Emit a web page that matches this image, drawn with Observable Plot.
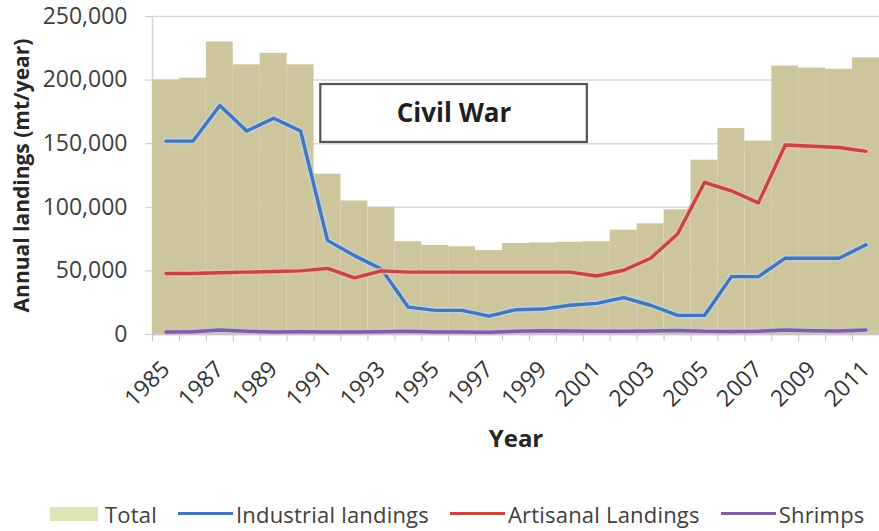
<!DOCTYPE html>
<html>
<head>
<meta charset="utf-8">
<script src="https://cdn.jsdelivr.net/npm/d3@7"></script>
<script src="https://cdn.jsdelivr.net/npm/@observablehq/plot@0.6"></script>
<style>
  body { margin: 0; background: #fff; font-family: "Open Sans", sans-serif; }
  #chart { width: 879px; height: 531px; overflow: hidden; }
  .legend { display: flex; flex-wrap: nowrap; white-space: nowrap; align-items: center; height: 51px; padding-left: 50px; box-sizing: border-box; padding-top: 16px; color: #404040; font-size: 22px; letter-spacing: 0.2px; }
  .legend .item { display: flex; flex-shrink: 0; align-items: center; margin-right: 21px; }
  .legend .swatch { width: 48px; height: 14px; margin-right: 7px; flex-shrink: 0; }
  .legend .line { width: 55px; height: 3px; margin-right: 3px; flex-shrink: 0; }
</style>
</head>
<body>
<div id="chart"></div>
<script>
// Annual fish landings, 1985–2011 (metric tonnes per year)
const years = [1985, 1986, 1987, 1988, 1989, 1990, 1991, 1992, 1993, 1994, 1995, 1996, 1997, 1998,
               1999, 2000, 2001, 2002, 2003, 2004, 2005, 2006, 2007, 2008, 2009, 2010, 2011];
const total = [200000, 201500, 230000, 212000, 221000, 212000, 126000, 105000, 100000, 73000, 70000, 69000, 66000, 71500,
               72000, 72500, 73000, 82000, 87000, 98000, 137000, 162000, 152000, 211000, 209500, 208500, 217500];
const industrial = [152000, 152000, 180000, 160000, 170000, 160000, 74000, 62000, 51500, 21500, 19000, 19000, 14500, 19500,
                    20000, 23000, 24500, 29000, 23000, 15000, 15000, 45500, 45500, 60000, 60000, 60000, 70500];
const artisanal = [48000, 48000, 48500, 49000, 49500, 50000, 52000, 44500, 50000, 49000, 49000, 49000, 49000, 49000,
                   49000, 49000, 46000, 50500, 60000, 79000, 119500, 113000, 103500, 149000, 148000, 147000, 144000];
const shrimps = [2000, 2200, 3500, 2500, 2000, 2200, 2000, 2000, 2200, 2500, 2000, 2000, 1800, 2500,
                 3000, 2800, 2500, 2500, 2700, 3200, 2500, 2400, 2600, 3500, 3000, 2800, 3500];

// Axis ticks and titles
const yTicks = [0, 50000, 100000, 150000, 200000, 250000];
const xLabelYears = [1985, 1987, 1989, 1991, 1993, 1995, 1997, 1999, 2001, 2003, 2005, 2007, 2009, 2011];
const yTitle = "Annual landings (mt/year)";
const xTitle = "Year";

// Civil War annotation: year span and value band of the label box
const warLabel = "Civil War";
const warYears = [1990.75, 2000.65];
const warBand = [151000, 196500];

// Series names and colours
const seriesNames = ["Total", "Industrial landings", "Artisanal Landings", "Shrimps"];
const seriesKeys = ["total", "industrial", "artisanal", "shrimps"];
const seriesColors = ["#cdc69c", "#4475b8", "#c4463e", "#7d5fa5"];
const haloColors = [null, "#bcd3ec", "#efbcb4", "#cdbfe0"];
const legendSwatch = "#dfe4b6";

const rows = years.map((year, i) => ({
  year, total: total[i], industrial: industrial[i], artisanal: artisanal[i], shrimps: shrimps[i]
}));
const bandEdges = d3.range(years[0] - 0.5, years[years.length - 1] + 1, 1);
const war = [{label: warLabel, x1: warYears[0], x2: warYears[1], y1: warBand[0], y2: warBand[1]}];

const lineMarks = [];
for (let s = 1; s < seriesKeys.length; s++) {
  lineMarks.push(Plot.line(rows, {x: "year", y: seriesKeys[s], stroke: haloColors[s], strokeWidth: 6.5, strokeOpacity: 0.8}));
  lineMarks.push(Plot.line(rows, {x: "year", y: seriesKeys[s], stroke: seriesColors[s], strokeWidth: 3.4}));
}

const chart = Plot.plot({
  width: 879,
  height: 480,
  marginLeft: 152,
  marginRight: 0,
  marginTop: 16,
  marginBottom: 146,
  style: {fontFamily: "Open Sans, sans-serif", fontSize: "22px", background: "#fff", color: "#404040"},
  x: {domain: [bandEdges[0], bandEdges[bandEdges.length - 1]], label: null},
  y: {domain: [0, 250000], label: null},
  marks: [
    Plot.gridY(yTicks, {stroke: "#d9d9d9", strokeOpacity: 1, strokeWidth: 1.5}),
    Plot.ruleX([bandEdges[0]], {stroke: "#d4d4d4", strokeWidth: 1.5}),
    Plot.rectY(rows, {x1: d => d.year - 0.5, x2: d => d.year + 0.5, y: "total", fill: seriesColors[0]}),
    Plot.ruleY([0], {stroke: "#c8c8c8", strokeWidth: 1.5}),
    Plot.axisX({ticks: bandEdges, tickSize: 7, tickFormat: () => "", stroke: "#c0c0c0", label: null}),
    Plot.axisX({ticks: xLabelYears, tickSize: 0, tickPadding: 31, tickRotate: -45, tickFormat: d => String(d),
                fontSize: 23, color: "#333", label: null}),
    Plot.axisY({ticks: yTicks, tickSize: 7, tickPadding: 18, tickFormat: d3.format(","),
                stroke: "#c8c8c8", color: "#404040", fontSize: 23, label: null}),
    ...lineMarks,
    Plot.rect(war, {x1: "x1", x2: "x2", y1: "y1", y2: "y2", fill: "white", stroke: "#555", strokeWidth: 2.2}),
    Plot.text(war, {x: d => (d.x1 + d.x2) / 2, y: d => (d.y1 + d.y2) / 2, text: "label",
                    fontSize: 26, fontWeight: "bold", fill: "#1f1f1f"}),
    Plot.text([yTitle], {text: d => d, frameAnchor: "left", textAnchor: "middle", rotate: -90, dx: -130,
                         fontSize: 21, fontWeight: "bold", fill: "#262626"}),
    Plot.text([xTitle], {text: d => d, frameAnchor: "bottom", dy: 112,
                         fontSize: 24, fontWeight: "bold", fill: "#262626"})
  ]
});

const root = document.getElementById("chart");
root.appendChild(chart);

// Legend row below the plot
const legend = document.createElement("div");
legend.className = "legend";
seriesNames.forEach((name, i) => {
  const item = document.createElement("div");
  item.className = "item";
  const marker = document.createElement("span");
  marker.className = i === 0 ? "swatch" : "line";
  marker.style.background = i === 0 ? legendSwatch : seriesColors[i];
  const label = document.createElement("span");
  label.textContent = name;
  item.appendChild(marker);
  item.appendChild(label);
  legend.appendChild(item);
});
root.appendChild(legend);
</script>
</body>
</html>
